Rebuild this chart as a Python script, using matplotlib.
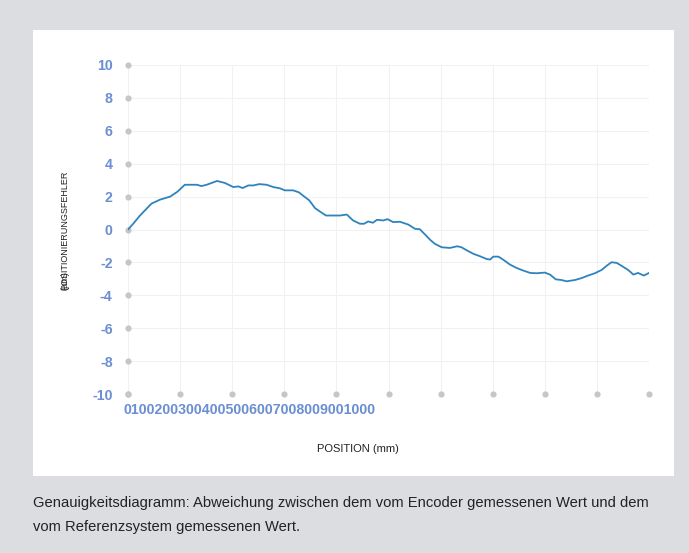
import matplotlib
matplotlib.use("Agg")
import matplotlib.pyplot as plt

# ---- data ----
position_mm = [0, 10, 23, 45, 61, 81, 95, 109, 132, 141, 151, 171, 186, 202, 212, 220,
               231, 241, 252, 266, 279, 292, 301, 317, 328, 338, 348, 359, 368, 380,
               394, 407, 420, 432, 445, 453, 461, 470, 478, 490, 498, 509, 522, 538,
               551, 560, 570, 580, 589, 602, 618, 632, 640, 651, 663, 676, 688, 695,
               701, 711, 720, 733, 746, 759, 772, 784, 800, 810, 821, 832, 842, 858,
               871, 883, 896, 909, 919, 928, 938, 947, 960, 970, 979, 990, 1000]
error_um = [0.0, 0.35, 0.85, 1.57, 1.81, 2.0, 2.3, 2.72, 2.72, 2.64, 2.72, 2.95, 2.83,
            2.58, 2.62, 2.52, 2.68, 2.68, 2.76, 2.72, 2.58, 2.5, 2.38, 2.38, 2.26, 2.01,
            1.77, 1.3, 1.1, 0.85, 0.85, 0.85, 0.91, 0.55, 0.35, 0.35, 0.49, 0.41, 0.59,
            0.55, 0.63, 0.45, 0.47, 0.3, 0.04, 0.02, -0.3, -0.63, -0.87, -1.08, -1.12,
            -1.02, -1.08, -1.28, -1.48, -1.63, -1.79, -1.83, -1.65, -1.65, -1.83, -2.13,
            -2.34, -2.5, -2.64, -2.66, -2.62, -2.74, -3.03, -3.07, -3.15, -3.07, -2.95,
            -2.8, -2.66, -2.46, -2.2, -1.99, -2.03, -2.2, -2.46, -2.74, -2.64, -2.8, -2.64]
x_ticks = [0, 100, 200, 300, 400, 500, 600, 700, 800, 900, 1000]
y_ticks = [10, 8, 6, 4, 2, 0, -2, -4, -6, -8, -10]
x_label = "POSITION (mm)"
y_label = "POSITIONIERUNGSFEHLER"
y_unit = "(µm)"
caption_lines = ["Genauigkeitsdiagramm: Abweichung zwischen dem vom Encoder gemessenen Wert und dem",
                 "vom Referenzsystem gemessenen Wert."]

W, H = 689, 553
BG = "#dcdde0"
TICK_BLUE = "#6b8fd2"
LINE_BLUE = "#2f83bd"
GRID = "#f1f1f1"
DOT = "#c6c6c6"

plt.rcParams['font.family'] = ['Liberation Sans', 'DejaVu Sans']

fig = plt.figure(figsize=(W / 100, H / 100), dpi=100, facecolor=BG)

def fx(px):
    return px / W

def fy(py):
    return 1 - py / H

# white panel (as a background axes)
panel = fig.add_axes([fx(33), fy(476), fx(674) - fx(33), fy(30) - fy(476)], zorder=-1)
panel.set_facecolor("white")
panel.set_xticks([])
panel.set_yticks([])
for s in panel.spines.values():
    s.set_visible(False)

ax = fig.add_axes([fx(128), fy(394), fx(649) - fx(128), fy(65) - fy(394)], zorder=1)
ax.set_facecolor("none")
ax.set_xlim(0, 1000)
ax.set_ylim(-10, 10)
for s in ax.spines.values():
    s.set_visible(False)

ax.set_xticks(x_ticks)
ax.set_yticks(y_ticks)
ax.grid(True, color=GRID, linewidth=0.8, zorder=0)
ax.set_axisbelow(True)
ax.tick_params(length=0)
ax.set_xticklabels([""] * len(x_ticks))
ax.set_yticklabels([str(t) for t in y_ticks], color=TICK_BLUE, fontweight="bold",
                   fontsize=10.2)
ax.tick_params(axis="y", pad=11)

# gray dots on axes
ax.scatter([0] * len(y_ticks), y_ticks, s=20, color=DOT, zorder=3, clip_on=False,
           linewidths=0)
ax.scatter(x_ticks, [-10] * len(x_ticks), s=20, color=DOT, zorder=3, clip_on=False,
           linewidths=0)

ax.plot(position_mm, error_um, color=LINE_BLUE, linewidth=1.3, zorder=4,
        solid_joinstyle="round")

# crammed x tick labels
fig.text(fx(124), fy(410), "".join(str(t) for t in x_ticks), color=TICK_BLUE,
         fontweight="bold", fontsize=10.2, ha="left", va="center")

# axis titles
fig.text(fx(358), fy(449), x_label, fontsize=8, color="#222222", ha="center",
         va="center")
fig.text(fx(65), fy(290), y_label, fontsize=6.5, color="#222222", rotation=90,
         ha="center", va="bottom")
fig.text(fx(65), fy(290), y_unit, fontsize=6.5, color="#222222", rotation=90,
         ha="center", va="bottom")

# caption
for i, line in enumerate(caption_lines):
    fig.text(fx(33), fy(503 + 24 * i), line, fontsize=10.6, color="#222222",
             ha="left", va="center")

fig.savefig("out.png", dpi=100, facecolor=BG)
